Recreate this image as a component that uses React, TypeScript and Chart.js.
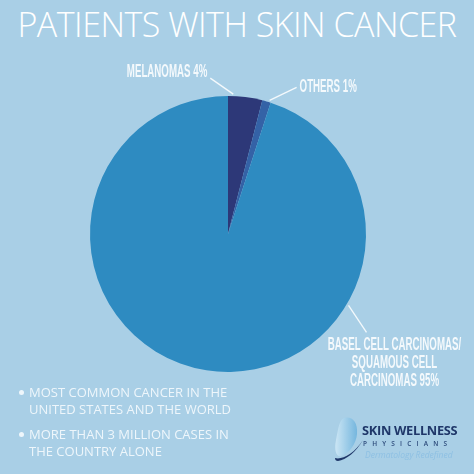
import React, { useEffect, useRef } from "react";
import { Chart, registerables } from "chart.js";

Chart.register(...registerables);

const titleText = "PATIENTS WITH SKIN CANCER";
const categories = ["MELANOMAS", "OTHERS", "BASEL CELL CARCINOMAS/ SQUAMOUS CELL CARCINOMAS"];
const values = [4, 1, 95];
const sliceColors = ["#2d3878", "#3462a6", "#2e8bc1"];
const labelLines = [
  ["MELANOMAS 4%"],
  ["OTHERS 1%"],
  ["BASEL CELL CARCINOMAS/", "SQUAMOUS CELL", "CARCINOMAS 95%"],
];
const bullets = [
  ["MOST COMMON CANCER IN THE", "UNITED STATES AND THE WORLD"],
  ["MORE THAN 3 MILLION CASES IN", "THE COUNTRY ALONE"],
];

// label layout: position along arc (t), leader vector, text placement
const labelLayout = [
  { t: 0.15, dx: -23, dy: -16, align: "right", tx: -3, ty: -1 },
  { t: 0.8, dx: 27, dy: -13, align: "left", tx: 3, ty: 5 },
  { t: 0.3, dx: 18, dy: 27, align: "center", tx: 28, ty: 18 },
];

const BG = "#a9cfe6";

const labelPlugin = {
  id: "sliceLabels",
  afterDatasetsDraw(chart: any) {
    const ctx = chart.ctx;
    const meta = chart.getDatasetMeta(0);
    meta.data.forEach((arc: any, i: number) => {
      const L = labelLayout[i];
      const p = arc.getProps(["x", "y", "startAngle", "endAngle", "outerRadius"], true);
      const a = p.startAngle + L.t * (p.endAngle - p.startAngle);
      const r = p.outerRadius + 2;
      const ax = p.x + Math.cos(a) * r;
      const ay = p.y + Math.sin(a) * r;
      const ex = ax + L.dx;
      const ey = ay + L.dy;
      ctx.save();
      ctx.strokeStyle = "#f4f9fc";
      ctx.lineWidth = 1.3;
      ctx.beginPath();
      ctx.moveTo(ax, ay);
      ctx.lineTo(ex, ey);
      ctx.stroke();
      ctx.fillStyle = "#f4f9fc";
      ctx.font = "bold 18px 'Liberation Sans', Arial, sans-serif";
      ctx.textAlign = L.align as CanvasTextAlign;
      ctx.textBaseline = "alphabetic";
      labelLines[i].forEach((line, j) => {
        ctx.save();
        ctx.translate(ex + L.tx, ey + L.ty + j * 18);
        ctx.scale(0.54, 1);
        ctx.fillText(line, 0, 0);
        ctx.restore();
      });
      ctx.restore();
    });
  },
};

function Logo() {
  return (
    <div style={{ position: "absolute", left: 330, top: 414, width: 140, height: 52 }}>
      <svg width="40" height="50" style={{ position: "absolute", left: 0, top: 0 }}>
        <defs>
          <linearGradient id="lg" x1="0" y1="0" x2="1" y2="0">
            <stop offset="0" stopColor="#cfe8f6" />
            <stop offset="1" stopColor="#6fb3dd" />
          </linearGradient>
        </defs>
        <path d="M14 4 C22 2 28 8 27 20 C26 30 20 38 12 42 C6 44 4 36 6 26 C8 16 9 6 14 4 Z" fill="url(#lg)" opacity="0.9" />
        <path d="M5 44 C12 46 24 40 33 26 C26 38 16 46 8 47 C6 47 5 46 5 44 Z" fill="#1f3769" />
      </svg>
      <div style={{ position: "absolute", left: 32, top: 9, font: "700 12.8px 'Open Sans', sans-serif", color: "#1f3769", letterSpacing: "-0.3px", whiteSpace: "nowrap", lineHeight: "14px" }}>SKIN WELLNESS</div>
      <div style={{ position: "absolute", left: 33, top: 26, font: "600 6.5px 'Open Sans', sans-serif", color: "#2c4a7a", letterSpacing: "5.2px", whiteSpace: "nowrap", lineHeight: "8px" }}>PHYSICIANS</div>
      <div style={{ position: "absolute", left: 35, top: 36, font: "italic 8.5px 'Open Sans', sans-serif", color: "#8ec0e3", whiteSpace: "nowrap", lineHeight: "10px" }}>Dermatology Redefined</div>
    </div>
  );
}

export default function App() {
  const canvasRef = useRef<HTMLCanvasElement>(null);

  useEffect(() => {
    const chart = new Chart(canvasRef.current!, {
      type: "pie",
      data: {
        labels: categories,
        datasets: [
          {
            data: values,
            backgroundColor: sliceColors,
            borderWidth: 0,
          },
        ],
      },
      options: {
        responsive: false,
        animation: false,
        layout: { padding: { left: 90, right: 108, top: 96, bottom: 102 } },
        plugins: {
          legend: { display: false },
          tooltip: { enabled: false },
          title: { display: false },
        },
      },
      plugins: [labelPlugin],
    });
    return () => chart.destroy();
  }, []);

  return (
    <div style={{ position: "fixed", left: 0, top: 0, width: 474, height: 474, background: BG, overflow: "hidden" }}>
      <div style={{ position: "absolute", left: 0, top: 6, width: 474, textAlign: "center", font: "300 34px 'Open Sans', sans-serif", lineHeight: "36px", letterSpacing: "-0.5px", color: "#ffffff", whiteSpace: "nowrap" }}>
        {titleText}
      </div>
      <canvas ref={canvasRef} width={474} height={474} style={{ position: "absolute", left: 0, top: 0 }} />
      <div style={{ position: "absolute", left: 0, top: 384, width: 320 }}>
        {bullets.map((b, i) => (
          <div key={i} style={{ position: "relative", paddingLeft: 29, marginBottom: 8, font: "400 13px 'Open Sans', sans-serif", lineHeight: "17px", color: "#eef6fb" }}>
            <span style={{ position: "absolute", left: 19, top: 6, width: 5, height: 5, borderRadius: "50%", background: "#eef6fb" }} />
            {b.map((l, j) => (
              <div key={j} style={{ whiteSpace: "nowrap" }}>{l}</div>
            ))}
          </div>
        ))}
      </div>
      <Logo />
    </div>
  );
}
